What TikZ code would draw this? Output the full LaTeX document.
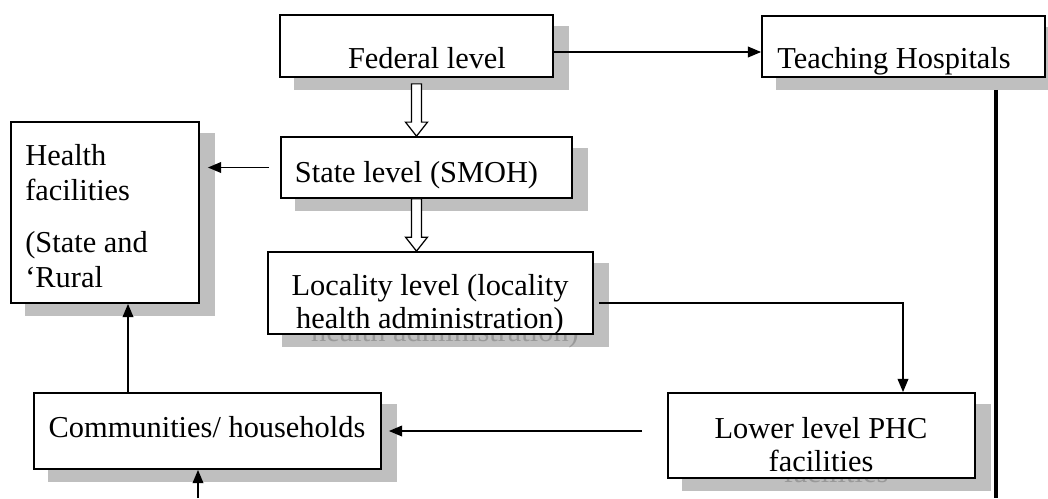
\documentclass[tikz,border=0pt]{standalone}
\usepackage{fontspec}
\setmainfont{Liberation Serif}
\usetikzlibrary{arrows.meta,calc,backgrounds}

\tikzset{
  box/.style={draw, line width=1pt, fill=white, inner sep=0pt},
  txt/.style={inner sep=0pt, font=\fontsize{17.3}{18.7}\selectfont},
  ghost/.style={txt, text=black!40},
  arr/.style={-{Triangle[length=7.5pt,width=6pt]}, line width=1pt},
  hollow/.style={draw, line width=0.7pt, fill=white,
    to path={($(\tikztostart)+(-5,0)$) -- ($(\tikztotarget)+(-5,-14)$)
      -- ($(\tikztotarget)+(-11,-14)$) -- (\tikztotarget)
      -- ($(\tikztotarget)+(11,-14)$) -- ($(\tikztotarget)+(5,-14)$)
      -- ($(\tikztostart)+(5,0)$) -- cycle}},
}

\begin{document}
\begin{tikzpicture}[x=0.02cm, y=-0.02cm]
\useasboundingbox (0,0) rectangle (1048,498);

% boxes
\node[box, minimum width=5.46cm, minimum height=1.24cm] (fed) at (416.5,46) {};
\node[box, minimum width=5.66cm, minimum height=1.22cm] (teach) at (903.5,46.5) {};
\node[box, minimum width=3.76cm, minimum height=3.62cm] (health) at (105,212.5) {};
\node[box, minimum width=5.82cm, minimum height=1.22cm] (state) at (426.5,167.5) {};
\node[box, minimum width=6.5cm, minimum height=1.64cm] (local) at (430.5,293) {};
\node[box, minimum width=6.14cm, minimum height=1.7cm] (lower) at (821.5,435.5) {};
\node[box, minimum width=6.94cm, minimum height=1.52cm] (comm) at (207.5,431) {};

% texts
\node[txt, anchor=base] (fedtxt) at (427,68) {Federal level};
\node[txt, anchor=base] (teachtxt) at (894,68) {Teaching Hospitals};
\node[txt, anchor=base] (statetxt) at (416.5,182) {State level (SMOH)};
\node[txt, anchor=north, align=center] (localtxt) at (430,274) {Locality level (locality\\health administration)};
\node[txt, anchor=north, align=center] (lowertxt) at (821,417) {Lower level PHC\\facilities};
\node[txt, anchor=base] (commtxt) at (207,437) {Communities/ households};
\node[txt, font=\fontsize{17.3}{19.8}\selectfont, anchor=north west, align=left] (healthtxt) at (25,144)
  {Health\\facilities\\[10pt](State and\\`Rural};

% shadows
\begin{scope}[on background layer]
  \foreach \n in {fed,teach,health,state,local,lower,comm}
    \fill[gray!50] ($(\n.south west)+(15,12)$) rectangle ($(\n.north east)+(15,12)$);
  \node[ghost, anchor=base] (localghost) at (445,341) {health administration)};
  \node[ghost, anchor=base] (lowerghost) at (836,482) {facilities};
\end{scope}

% connectors
\draw[hollow] ($(fed.south)+(0,6)$) to (fed.south |- state.north);
\draw[hollow] (fed.south |- state.south) to (fed.south |- local.north);
\draw[arr] ($(fed.east)+(0,6)$) -- ($(fed.east -| teach.west)+(0,6)$);
\draw[arr] ($(state.west)+(-11,0)$) -- ($(state.west -| health.east)+(8,0)$);
\draw[arr] ($(local.east)+(5,10)$) -| ($(lower.north)+(81.5,0)$);
\draw[arr] (comm.east -| lower.west) ++(-25,0) -- ($(comm.east)+(7,0)$);
\coordinate (up) at ($(health.south)+(23,0)$);
\draw[arr] (up |- comm.north) -- (up);
\coordinate (cbot) at (198,498);
\draw[arr] (cbot) -- (cbot |- comm.south);
\coordinate (tbot) at (996,498);
\draw[line width=1.8pt] (tbot |- teach.south) ++(0,12) -- (tbot);
\end{tikzpicture}
\end{document}
